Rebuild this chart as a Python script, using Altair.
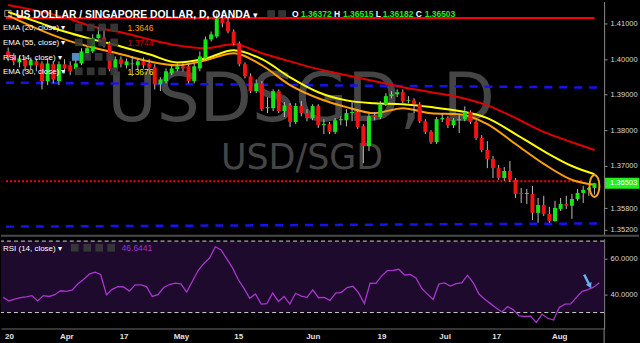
import json
import altair as alt
import pandas as pd

# ---------------- data ----------------
opens = [1.4022, 1.4008, 1.3991, 1.4000, 1.3983, 1.3994, 1.3988, 1.3938, 1.3986, 1.3938,
         1.3986, 1.3983, 1.3972, 1.3988, 1.4014, 1.4022, 1.4059, 1.4061, 1.4045, 1.3972,
         1.4000, 1.3983, 1.3986, 1.3983, 1.3994, 1.3988, 1.3977, 1.3929, 1.3938, 1.3960,
         1.3972, 1.3980, 1.3980, 1.3938, 1.3974, 1.4002, 1.4056, 1.4064, 1.4115, 1.4106,
         1.4078, 1.4045, 1.3986, 1.3952, 1.3910, 1.3932, 1.3862, 1.3862, 1.3910, 1.3854,
         1.3870, 1.3823, 1.3868, 1.3848, 1.3834, 1.3868, 1.3814, 1.3817, 1.3795, 1.3828,
         1.3828, 1.3848, 1.3851, 1.3811, 1.3755, 1.3842, 1.3837, 1.3873, 1.3896, 1.3901,
         1.3907, 1.3882, 1.3884, 1.3873, 1.3825, 1.3795, 1.3766, 1.3831, 1.3834, 1.3814,
         1.3828, 1.3831, 1.3851, 1.3823, 1.3778, 1.3744, 1.3719, 1.3693, 1.3665, 1.3685,
         1.3660, 1.3623, 1.3620, 1.3620, 1.3567, 1.3589, 1.3564, 1.3544, 1.3578, 1.3592,
         1.3587, 1.3606, 1.3623, 1.3632, 1.36372]
highs = [1.4033, 1.4017, 1.4011, 1.4008, 1.4005, 1.4002, 1.3994, 1.4000, 1.3994, 1.3994,
         1.4000, 1.3994, 1.4000, 1.4031, 1.4039, 1.4070, 1.4090, 1.4084, 1.4050, 1.4008,
         1.4008, 1.4002, 1.4008, 1.4002, 1.4005, 1.4000, 1.3986, 1.3949, 1.3974, 1.3983,
         1.3988, 1.3988, 1.3988, 1.3988, 1.4022, 1.4064, 1.4078, 1.4129, 1.4135, 1.4120,
         1.4084, 1.4050, 1.3991, 1.3960, 1.3943, 1.3938, 1.3893, 1.3915, 1.3915, 1.3879,
         1.3876, 1.3876, 1.3882, 1.3859, 1.3873, 1.3873, 1.3831, 1.3823, 1.3834, 1.3839,
         1.3859, 1.3882, 1.3859, 1.3817, 1.3848, 1.3851, 1.3882, 1.3904, 1.3910, 1.3915,
         1.3915, 1.3896, 1.3890, 1.3879, 1.3831, 1.3800, 1.3837, 1.3848, 1.3839, 1.3834,
         1.3845, 1.3867, 1.3856, 1.3828, 1.3786, 1.3769, 1.3727, 1.3702, 1.3696, 1.3713,
         1.3665, 1.3637, 1.3634, 1.3643, 1.3609, 1.3615, 1.3584, 1.3601, 1.3609, 1.3615,
         1.3620, 1.3634, 1.3643, 1.3640, 1.36515]
lows = [1.3994, 1.3983, 1.3977, 1.3966, 1.3972, 1.3966, 1.3915, 1.3927, 1.3932, 1.3927,
        1.3960, 1.3955, 1.3960, 1.3983, 1.4005, 1.4017, 1.4050, 1.4033, 1.3966, 1.3960,
        1.3977, 1.3974, 1.3952, 1.3972, 1.3974, 1.3966, 1.3915, 1.3910, 1.3932, 1.3955,
        1.3966, 1.3966, 1.3932, 1.3932, 1.3966, 1.3997, 1.4050, 1.4059, 1.4090, 1.4073,
        1.4039, 1.3980, 1.3946, 1.3904, 1.3904, 1.3854, 1.3848, 1.3854, 1.3848, 1.3837,
        1.3809, 1.3817, 1.3839, 1.3825, 1.3828, 1.3806, 1.3789, 1.3789, 1.3789, 1.3814,
        1.3811, 1.3825, 1.3803, 1.3707, 1.3741, 1.3828, 1.3831, 1.3868, 1.3890, 1.3893,
        1.3876, 1.3876, 1.3848, 1.3820, 1.3789, 1.3761, 1.3761, 1.3823, 1.3806, 1.3806,
        1.3792, 1.3825, 1.3817, 1.3772, 1.3738, 1.3693, 1.3665, 1.3660, 1.3657, 1.3654,
        1.3609, 1.3595, 1.3592, 1.3547, 1.3539, 1.3558, 1.3539, 1.3542, 1.3572, 1.3578,
        1.3550, 1.3601, 1.3595, 1.3615, 1.36182]
closes = [1.4005, 1.3994, 1.4002, 1.3980, 1.3997, 1.3983, 1.3938, 1.3988, 1.3943, 1.3986,
          1.3974, 1.3966, 1.3988, 1.4022, 1.4031, 1.4059, 1.4070, 1.4042, 1.3972, 1.4000,
          1.3986, 1.3994, 1.3988, 1.3994, 1.3983, 1.3977, 1.3929, 1.3943, 1.3966, 1.3974,
          1.3980, 1.3974, 1.3938, 1.3980, 1.4008, 1.4056, 1.4070, 1.4115, 1.4101, 1.4078,
          1.4045, 1.3986, 1.3952, 1.3910, 1.3932, 1.3859, 1.3865, 1.3910, 1.3854, 1.3870,
          1.3823, 1.3868, 1.3848, 1.3834, 1.3868, 1.3814, 1.3817, 1.3795, 1.3828, 1.3831,
          1.3848, 1.3851, 1.3809, 1.3755, 1.3839, 1.3837, 1.3873, 1.3896, 1.3901, 1.3907,
          1.3882, 1.3884, 1.3873, 1.3825, 1.3795, 1.3766, 1.3831, 1.3834, 1.3814, 1.3828,
          1.3831, 1.3851, 1.3823, 1.3778, 1.3744, 1.3719, 1.3693, 1.3665, 1.3685, 1.3660,
          1.3620, 1.3620, 1.3623, 1.3567, 1.3589, 1.3564, 1.3544, 1.3581, 1.3592, 1.3587,
          1.3606, 1.3623, 1.3632, 1.3637, 1.36503]

rsi_values = [38.5, 36.5, 37.5, 38.3, 38.8, 39.5, 36.5, 39.5, 39.0, 40.0,
              42.2, 41.9, 42.5, 46.0, 48.5, 51.5, 52.6, 51.3, 40.0, 43.0,
              44.5, 44.3, 42.0, 45.5, 45.5, 44.5, 39.0, 40.0, 44.0, 45.7,
              46.5, 46.0, 41.5, 47.5, 53.5, 57.5, 60.5, 66.8, 65.0, 60.0,
              55.0, 48.5, 43.5, 38.0, 40.4, 34.7, 35.0, 41.0, 36.2, 39.0,
              34.7, 40.8, 39.2, 38.5, 42.7, 38.3, 38.5, 36.8, 40.9, 41.3,
              44.0, 44.7, 41.0, 35.0, 46.5, 46.3, 50.4, 53.5, 53.6, 54.2,
              51.0, 51.3, 49.4, 43.5, 40.3, 37.3, 46.0, 46.6, 44.8, 46.2,
              46.6, 50.9, 46.6, 40.4, 37.5, 35.0, 32.5, 30.3, 33.4, 31.5,
              28.1, 27.8, 28.0, 24.5, 29.1, 26.8, 25.8, 32.8, 34.7, 34.8,
              38.5, 41.9, 42.8, 44.2, 46.64]

ema_index = [0, 5, 10, 15, 20, 25, 30, 35, 40, 45, 50, 55, 60, 65, 70, 75, 80, 85, 90, 95, 100, 104]
ema20 = [1.4123, 1.4087, 1.4056, 1.4033, 1.4014, 1.3994, 1.3983, 1.3997, 1.4017, 1.3983, 1.3927,
         1.3890, 1.3865, 1.3848, 1.3862, 1.3848, 1.3845, 1.3817, 1.3761, 1.3705, 1.3660, 1.3646]
ema30 = [1.4133, 1.4106, 1.4078, 1.4056, 1.4036, 1.4014, 1.3991, 1.4002, 1.4025, 1.4000, 1.3949,
         1.3907, 1.3884, 1.3876, 1.3873, 1.3865, 1.3854, 1.3834, 1.3789, 1.3741, 1.3699, 1.3676]
ema55 = [1.4153, 1.4137, 1.4118, 1.4092, 1.4076, 1.4056, 1.4039, 1.4031, 1.4042, 1.4017, 1.3994,
         1.3972, 1.3955, 1.3938, 1.3921, 1.3907, 1.3893, 1.3870, 1.3834, 1.3795, 1.3766, 1.3744]

tick_bars = [1, 11, 21, 31, 41, 54, 66, 77, 86, 97]
tick_labels = ["20", "Apr", "17", "May", "15", "Jun", "19", "Jul", "17", "Aug"]
price_ticks = [1.41, 1.40, 1.39, 1.38, 1.37, 1.358, 1.352]
rsi_ticks = [40, 60]
rsi_levels = [70, 30]

resistance = 1.4116
dotted_level = 1.3656
channel_top = [1.3934, 1.3920]
channel_bottom = [1.3528, 1.3537]
last_ohlc = ["1.36372", "1.36515", "1.36182", "1.36503"]
last_close = 1.36503
circle_center = 1.36428
legend_values = ["1.3646", "1.3744", "1.3676"]
rsi_last = "46.6441"
arrow_bars = [101.35, 102.35]
arrow_rsi = [51.2, 45.0]

# ---------------- layout / style ----------------
W, H1, H2 = 605, 235, 90
X_DOM = [-0.3913, 104.826]
P_DOM = [1.350225, 1.41626]
R_DOM = [21.07, 71.28]

GREEN = "#14e614"
RED = "#f21212"
WICK = "#bdbdbd"
C20 = "#ffa000"
C30 = "#ffff00"
C55 = "#e00000"
BLUE = "#1414f0"
RSI_C = "#ab35cf"
FONT = "Liberation Sans"

xs = alt.Scale(domain=X_DOM, nice=False, zero=False)
ps = alt.Scale(domain=P_DOM, nice=False, zero=False)
rs = alt.Scale(domain=R_DOM, nice=False, zero=False)

price_axis = alt.Axis(orient="right", values=price_ticks, format=".5f", title=None,
                      labelColor="#d8d8d8", labelFont=FONT, labelFontSize=7.5,
                      tickColor="#8a8a8a", tickSize=3, domainColor="#8a8a8a",
                      labelPadding=3, grid=False, labelOverlap=False, labelFlush=False)
rsi_axis = alt.Axis(orient="right", values=rsi_ticks, format=".4f", title=None,
                    labelColor="#d8d8d8", labelFont=FONT, labelFontSize=7.5,
                    tickColor="#8a8a8a", tickSize=3, domainColor="#8a8a8a",
                    labelPadding=3, grid=False, labelOverlap=False, labelFlush=False)
label_expr = f"{json.dumps(tick_labels)}[indexof({json.dumps(tick_bars)}, datum.value)]"
x_axis = alt.Axis(values=tick_bars, labelExpr=label_expr, title=None, grid=False, ticks=False,
                  domainColor="#6a6a6a", labelColor="#e0e0e0", labelFont=FONT,
                  labelFontWeight="bold", labelFontSize=8, labelPadding=4,
                  labelOverlap=False, labelFlush=False)

XT = alt.X("i:Q", scale=xs, axis=None)


def one():
    return pd.DataFrame({"k": [0]})


def txt(s, x, y, color="#ffffff", size=8, weight="normal", font=FONT, align="left"):
    return alt.Chart(one()).mark_text(text=s, color=color, fontSize=size, fontWeight=weight,
                                      font=font, align=align, baseline="alphabetic").encode(
        x=alt.value(x), y=alt.value(y))


def boxes(xc, yc, colors):
    d = pd.DataFrame({"xc": xc, "yc": [yc] * len(xc), "c": colors})
    return alt.Chart(d).mark_point(shape="square", filled=True, size=60, opacity=0.9).encode(
        x=alt.X("xc:Q", scale=None), y=alt.Y("yc:Q", scale=None), color=alt.Color("c:N", scale=None))


# ---------------- price panel ----------------
cdf = pd.DataFrame({"i": list(range(len(closes))), "open": opens, "high": highs,
                    "low": lows, "close": closes})
up = alt.condition("datum.close >= datum.open", alt.value(GREEN), alt.value(RED))

watermark1 = txt("USDSGD, D", 301, 120, color="#454545", size=68, font="DejaVu Sans", align="center")
watermark2 = txt("USD/SGD", 302, 168, color="#454545", size=35, font="DejaVu Sans", align="center")

res_df = pd.DataFrame({"i": [X_DOM[0], 104], "p": [resistance, resistance]})
res_line = alt.Chart(res_df).mark_line(color="#ff0000", strokeWidth=2).encode(
    x=XT, y=alt.Y("p:Q", scale=ps, axis=price_axis))
dot_df = pd.DataFrame({"i": [X_DOM[0], 102], "p": [dotted_level, dotted_level]})
dot_line = alt.Chart(dot_df).mark_line(color="#ff0000", strokeWidth=2, strokeDash=[2, 2]).encode(
    x=XT, y=alt.Y("p:Q", scale=ps, axis=price_axis))
ch_top = alt.Chart(pd.DataFrame({"i": X_DOM, "p": channel_top})).mark_line(
    color=BLUE, strokeWidth=2.5, strokeDash=[8, 7]).encode(x=XT, y=alt.Y("p:Q", scale=ps, axis=price_axis))
ch_bot = alt.Chart(pd.DataFrame({"i": X_DOM, "p": channel_bottom})).mark_line(
    color=BLUE, strokeWidth=2.5, strokeDash=[8, 7]).encode(x=XT, y=alt.Y("p:Q", scale=ps, axis=price_axis))

edf = pd.DataFrame({"i": ema_index, "e20": ema20, "e30": ema30, "e55": ema55})


def ema_line(col, color):
    return alt.Chart(edf).mark_line(color=color, strokeWidth=2, interpolate="monotone").encode(
        x=XT, y=alt.Y(f"{col}:Q", scale=ps, axis=price_axis))


wicks = alt.Chart(cdf).mark_rule(color=WICK, strokeWidth=1).encode(
    x=XT, y=alt.Y("low:Q", scale=ps, axis=price_axis), y2="high:Q")
bodies = alt.Chart(cdf).mark_bar(size=4).encode(
    x=XT, y=alt.Y("open:Q", scale=ps, axis=price_axis), y2="close:Q", color=up)

ellipse_path = "M0,-1 A0.45,1 0 1,1 0,1 A0.45,1 0 1,1 0,-1 Z"
ellipse = alt.Chart(pd.DataFrame({"i": [len(closes) - 1], "p": [circle_center]})).mark_point(
    shape=ellipse_path, size=484, filled=False, stroke="#f5a21e", strokeWidth=2, opacity=1).encode(
    x=XT, y=alt.Y("p:Q", scale=ps, axis=price_axis))

box_path = "M-3.1,-1 L3.1,-1 L3.1,1 L-3.1,1 Z"
price_box = alt.Chart(pd.DataFrame({"p": [last_close]})).mark_point(
    shape=box_path, size=121, filled=True, color="#22f022", opacity=1).encode(
    x=alt.value(623), y=alt.Y("p:Q", scale=ps, axis=price_axis))
price_box_txt = alt.Chart(pd.DataFrame({"p": [last_close]})).mark_text(
    text=f"{last_close:.5f}", color="#ffffff", fontSize=7.5, font=FONT, align="left", baseline="middle").encode(
    x=alt.value(611), y=alt.Y("p:Q", scale=ps, axis=price_axis))

separator = alt.Chart(one()).mark_rule(color="#4a4a4a", strokeWidth=2).encode(
    x=alt.value(0), x2=alt.value(640), y=alt.value(235))

header = [
    alt.Chart(one()).mark_point(shape="square", filled=False, size=40, color="#dddddd", strokeWidth=1).encode(
        x=alt.value(7), y=alt.value(12)),
    txt("US DOLLAR / SINGAPORE DOLLAR, D, OANDA", 15, 16.5, size=10.4, weight="bold"),
    txt("\u25BE", 253, 16.5, size=9),
    boxes([271, 282], 12.5, ["#3a3a3a", "#3a3a3a"]),
    txt("O", 292, 16, size=8.5, weight="bold"),
    txt(last_ohlc[0], 301, 16, color="#22ee22", size=8.5, weight="bold"),
    txt("H", 334, 16, size=8.5, weight="bold"),
    txt(last_ohlc[1], 343, 16, color="#22ee22", size=8.5, weight="bold"),
    txt("L", 376, 16, size=8.5, weight="bold"),
    txt(last_ohlc[2], 383, 16, color="#22ee22", size=8.5, weight="bold"),
    txt("C", 416, 16, size=8.5, weight="bold"),
    txt(last_ohlc[3], 425, 16, color="#22ee22", size=8.5, weight="bold"),
    txt("EMA (20, close) \u25BE", 2, 29, size=8),
    boxes([78, 90, 101.5, 113.5], 26, ["#3a3a3a"] * 4),
    txt(legend_values[0], 127, 29.5, color=C20, size=8.5),
    txt("EMA (55, close) \u25BE", 2, 44, size=8),
    boxes([78, 90, 101.5, 113.5], 41, ["#3a3a3a"] * 4),
    txt(legend_values[1], 127, 44.5, color="#c80000", size=8.5),
    txt("RSI (14, close) \u25BE", 2, 58.5, size=8),
    boxes([75, 86.5, 98, 109.5], 55.5, ["#5b9bd5", "#3a3a3a", "#3a3a3a", "#3a3a3a"]),
    txt("EMA (30, close) \u25BE", 2, 73, size=8),
    boxes([78, 90, 101.5, 113.5], 70, ["#3a3a3a"] * 4),
    txt(legend_values[2], 127, 73.5, color="#f0f000", size=8.5),
]

top = alt.layer(
    watermark1, watermark2, res_line, dot_line, ch_top, ch_bot,
    ema_line("e55", C55), ema_line("e30", C30), ema_line("e20", C20),
    wicks, bodies, ellipse, price_box, price_box_txt, separator, *header
).properties(width=W, height=H1)

# ---------------- RSI panel ----------------
XB = alt.X("i:Q", scale=xs, axis=x_axis)
band = alt.Chart(pd.DataFrame({"i": [X_DOM[0]], "i2": [X_DOM[1]], "hi": [max(rsi_levels)],
                               "lo": [min(rsi_levels)]})).mark_rect(color="#1d0a2c").encode(
    x=XB, x2="i2:Q", y=alt.Y("hi:Q", scale=rs, axis=rsi_axis), y2="lo:Q")
lv = alt.Chart(pd.DataFrame({"lv": rsi_levels})).mark_rule(
    color="#cfcfcf", strokeWidth=1, strokeDash=[4, 3]).encode(y=alt.Y("lv:Q", scale=rs, axis=rsi_axis))
rdf = pd.DataFrame({"i": list(range(len(rsi_values))), "r": rsi_values})
rsi_line = alt.Chart(rdf).mark_line(color=RSI_C, strokeWidth=1.3).encode(
    x=XB, y=alt.Y("r:Q", scale=rs, axis=rsi_axis))
adf = pd.DataFrame({"i": arrow_bars, "r": arrow_rsi})
arrow = alt.Chart(adf).mark_line(color="#6aaef0", strokeWidth=2.5).encode(
    x=XB, y=alt.Y("r:Q", scale=rs, axis=rsi_axis))
arrow_head = alt.Chart(adf.tail(1)).mark_point(shape="triangle-down", filled=True, size=40,
                                               color="#6aaef0", angle=333, opacity=1).encode(
    x=XB, y=alt.Y("r:Q", scale=rs, axis=rsi_axis))
axis_ext = alt.Chart(one()).mark_rule(color="#8a8a8a", strokeWidth=1).encode(
    x=alt.value(W), y=alt.value(H2), y2=alt.value(H2 + 16))
rsi_legend = [
    txt("RSI (14, close) \u25BE", 2, 12, size=8),
    boxes([74, 86.5, 98.5, 110.5], 9, ["#3a3a3a"] * 4),
    txt(rsi_last, 121, 12.5, color="#a030c8", size=8.5),
]

bottom = alt.layer(band, lv, rsi_line, arrow, arrow_head, axis_ext, *rsi_legend).properties(width=W, height=H2)

chart = alt.vconcat(top, bottom, spacing=2).properties(
    background="#000000", padding={"left": 0, "top": 0, "right": 0, "bottom": 0}
).configure_view(stroke=None)

chart.save("out.html", embed_options={"renderer": "svg", "actions": False})
